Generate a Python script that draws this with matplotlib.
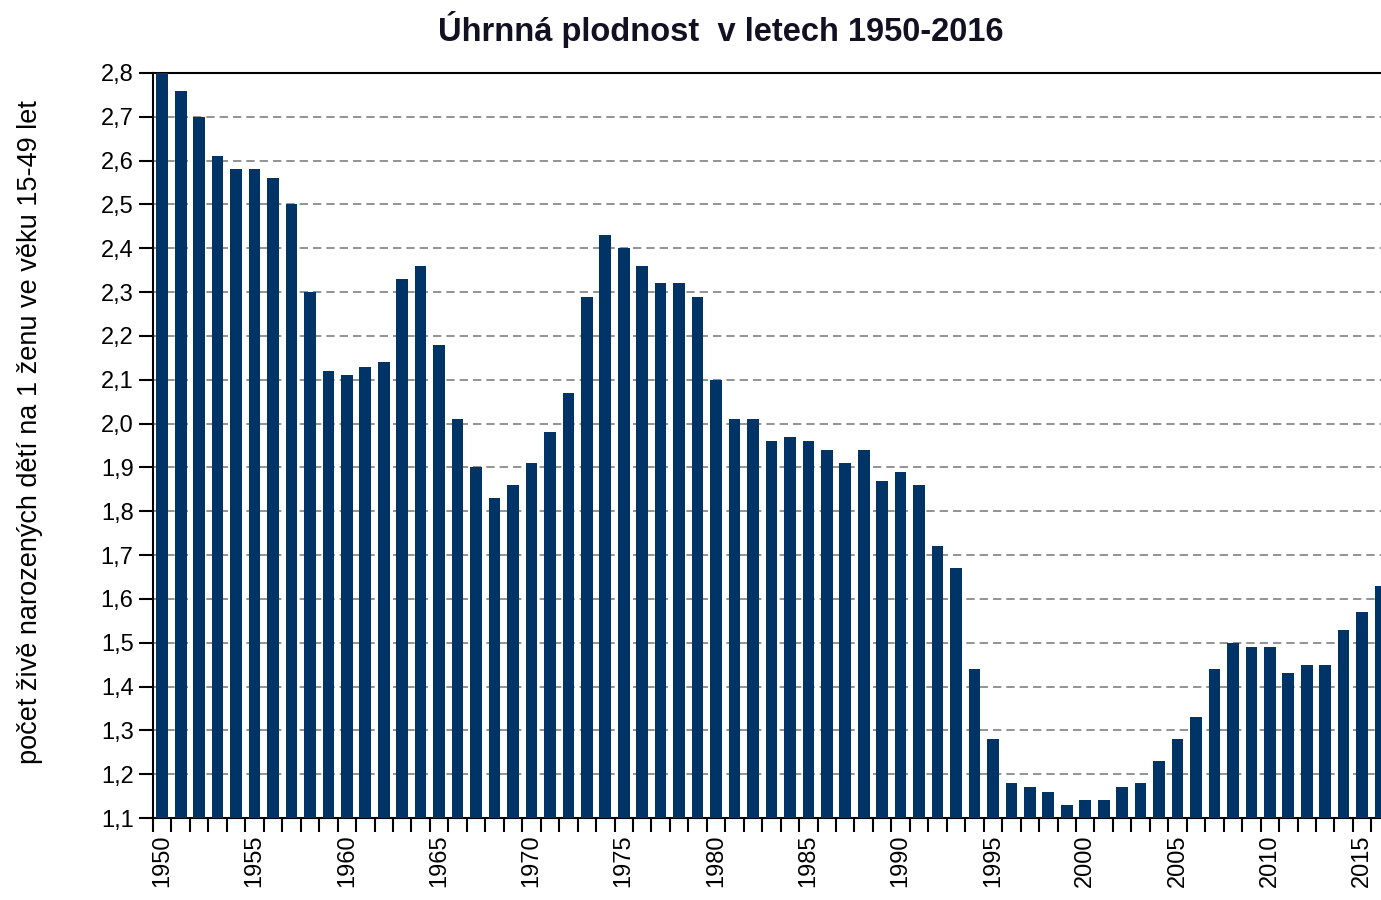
import matplotlib
matplotlib.use("Agg")
from matplotlib import pyplot as plt

plt.rcParams['font.family'] = ['Liberation Sans', 'DejaVu Sans']

years = list(range(1950, 2017))
tfr = [2.80, 2.76, 2.70, 2.61, 2.58, 2.58, 2.56, 2.50, 2.30, 2.12,
       2.11, 2.13, 2.14, 2.33, 2.36, 2.18, 2.01, 1.90, 1.83, 1.86,
       1.91, 1.98, 2.07, 2.29, 2.43, 2.40, 2.36, 2.32, 2.32, 2.29,
       2.10, 2.01, 2.01, 1.96, 1.97, 1.96, 1.94, 1.91, 1.94, 1.87,
       1.89, 1.86, 1.72, 1.67, 1.44, 1.28, 1.18, 1.17, 1.16, 1.13,
       1.14, 1.14, 1.17, 1.18, 1.23, 1.28, 1.33, 1.44, 1.50, 1.49,
       1.49, 1.43, 1.45, 1.45, 1.53, 1.57, 1.63]
y_ticks = [round(1.1 + 0.1 * i, 1) for i in range(18)]
year_labels = [y for y in years if y % 5 == 0]

fig = plt.figure(figsize=(13.81, 9.0), dpi=100)
# plot area runs past the right edge, as in the original screenshot
ax = fig.add_axes([153 / 1381, 82 / 900, 67 * 18.46 / 1381, 745 / 900])

x = list(range(len(years)))
ax.bar(x, tfr, width=0.63, color='#003366', zorder=3)

ax.set_xlim(-0.5, len(years) - 0.5)
ax.set_ylim(1.1, 2.8)
ax.set_yticks(y_ticks)
ax.set_yticklabels([f"{v:.1f}".replace('.', ',') for v in y_ticks], fontsize=17)

# ticks between categories, labels in the middle
ax.set_xticks([i - 0.5 for i in range(len(years) + 1)])
ax.set_xticklabels([])
ax.set_xticks([years.index(y) for y in year_labels], minor=True)
ax.set_xticklabels([str(y) for y in year_labels], minor=True,
                   rotation=90, fontsize=17)
ax.tick_params(axis='x', which='minor', length=0, pad=12)
ax.tick_params(axis='x', which='major', length=10, width=1.5, direction='out')
ax.tick_params(axis='y', length=10, width=1.5, direction='out', pad=4)

ax.yaxis.grid(True, linestyle=(0, (5, 3)), color='#808080', linewidth=1.2, zorder=0)
ax.set_axisbelow(True)
for s in ['left', 'bottom', 'top']:
    ax.spines[s].set_linewidth(1.5)
    ax.spines[s].set_color('black')
ax.spines['right'].set_visible(False)

ax.set_ylabel("počet živě narozených dětí na 1 ženu ve věku 15-49 let", fontsize=19.5)
ax.yaxis.set_label_coords(-0.089, 0.518)
fig.text(0.522, 0.967, "Úhrnná plodnost  v letech 1950-2016", ha='center', va='center',
         fontsize=23.5, fontweight='bold', color='#111122')

fig.savefig("out.png", dpi=100)
